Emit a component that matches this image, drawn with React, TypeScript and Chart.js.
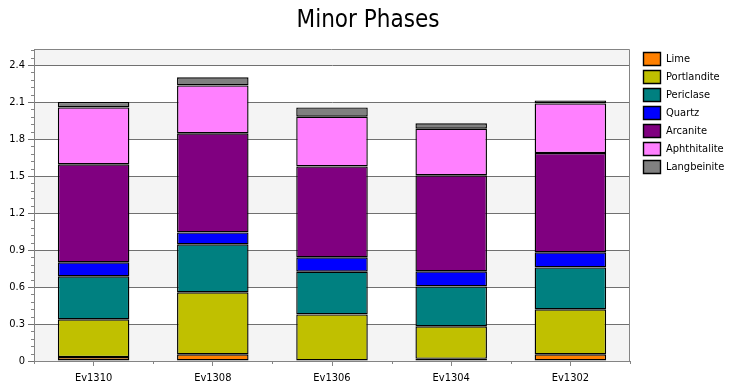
import React, { useEffect, useRef } from "react";
import { Chart, registerables } from "chart.js";

Chart.register(...registerables);

// ---- data ----
const CATEGORIES = ["Ev1310", "Ev1308", "Ev1306", "Ev1304", "Ev1302"];
const SERIES_NAMES = ["Lime", "Portlandite", "Periclase", "Quartz", "Arcanite", "Aphthitalite", "Langbeinite"];
const LIME = [0.032, 0.054, 0, 0.018, 0.054];
const PORTLANDITE = [0.306, 0.503, 0.378, 0.263, 0.365];
const PERICLASE = [0.349, 0.389, 0.346, 0.324, 0.34];
const QUARTZ = [0.113, 0.097, 0.117, 0.122, 0.122];
const ARCANITE = [0.795, 0.803, 0.737, 0.779, 0.805];
const APHTHITALITE = [0.461, 0.389, 0.403, 0.378, 0.403];
const LANGBEINITE = [0.045, 0.065, 0.075, 0.043, 0.024];
const SERIES_COLORS = ["#FF8000", "#C0C000", "#008080", "#0000FF", "#800080", "#FF80FF", "#808080"];
const Y_TICKS = [0, 0.3, 0.6, 0.9, 1.2, 1.5, 1.8, 2.1, 2.4];
const Y_TICK_LABELS = ["0", "0.3", "0.6", "0.9", "1.2", "1.5", "1.8", "2.1", "2.4"];
const Y_MAX = 2.53;
const Y_MINOR_STEP = 0.06;
const TITLE = "Minor Phases";

const FONT = "'DejaVu Sans Condensed', 'Liberation Sans', sans-serif";
const BAND_GRAY = "#F4F4F4";
const GRID = "#707070";
const AXIS = "#848484";

const chartDecor = {
  id: "chartDecor",
  afterLayout(chart: any) {
    const ca = chart.chartArea;
    const lg = chart.legend;
    if (lg) {
      const w = lg.width, h = lg.height;
      lg.left = ca.right + 8.5;
      lg.top = ca.top - 1.5;
      lg.right = lg.left + w + 20;
      lg.bottom = lg.top + h;
    }
    const tb = chart.titleBlock;
    if (tb) {
      tb.left = 0;
      tb.right = chart.width;
      tb.width = chart.width;
    }
  },
  beforeDraw(chart: any) {
    const { ctx, chartArea } = chart;
    const y = chart.scales.y;
    const bounds = [...Y_TICKS, Y_MAX];
    ctx.save();
    for (let i = 0; i < bounds.length - 1; i++) {
      const top = y.getPixelForValue(bounds[i + 1]);
      const bot = y.getPixelForValue(bounds[i]);
      ctx.fillStyle = i % 2 === 0 ? BAND_GRAY : "#FFFFFF";
      ctx.fillRect(chartArea.left, top, chartArea.right - chartArea.left, bot - top);
    }
    ctx.restore();
  },
  beforeDatasetsDraw(chart: any) {
    const { ctx, chartArea } = chart;
    ctx.save();
    ctx.strokeStyle = AXIS;
    ctx.lineWidth = 1;
    ctx.beginPath();
    ctx.moveTo(chartArea.left, Math.round(chartArea.top) + 0.5);
    ctx.lineTo(Math.round(chartArea.right) - 0.5, Math.round(chartArea.top) + 0.5);
    ctx.lineTo(Math.round(chartArea.right) - 0.5, chartArea.bottom);
    ctx.stroke();
    ctx.restore();
  },
  afterDraw(chart: any) {
    const { ctx, chartArea } = chart;
    const y = chart.scales.y;
    const x = chart.scales.x;
    ctx.save();
    ctx.strokeStyle = AXIS;
    ctx.lineWidth = 1;
    ctx.beginPath();
    const n = Math.round(Y_MAX / Y_MINOR_STEP);
    const lx = Math.round(chartArea.left) + 0.5;
    for (let k = 1; k <= n; k++) {
      const v = k * Y_MINOR_STEP;
      if (Math.round(v * 100) % 30 === 0) continue;
      if (v > Y_MAX) break;
      const py = Math.round(y.getPixelForValue(v)) + 0.5;
      ctx.moveTo(lx - 3.5, py);
      ctx.lineTo(lx, py);
    }
    const step = x.getPixelForValue(1) - x.getPixelForValue(0);
    const by = Math.round(chartArea.bottom);
    for (let i = 0; i <= CATEGORIES.length; i++) {
      const px = Math.round(x.getPixelForValue(i) - step / 2) + 0.5;
      ctx.moveTo(px, by);
      ctx.lineTo(px, by + 3);
    }
    ctx.stroke();
    ctx.restore();
  },
};

export default function App() {
  const ref = useRef<HTMLCanvasElement | null>(null);

  useEffect(() => {
    document.body.style.margin = "0";
    const canvas = ref.current;
    if (!canvas) return;
    const seriesValues = [LIME, PORTLANDITE, PERICLASE, QUARTZ, ARCANITE, APHTHITALITE, LANGBEINITE];
    const chart = new Chart(canvas, {
      type: "bar",
      data: {
        labels: CATEGORIES,
        datasets: SERIES_NAMES.map((name, i) => ({
          label: name,
          data: seriesValues[i],
          backgroundColor: SERIES_COLORS[i],
          borderColor: "#000000",
          borderWidth: 1.4,
          borderSkipped: false,
          inflateAmount: 0,
          barPercentage: 0.6,
          categoryPercentage: 1,
        })),
      },
      options: {
        animation: false,
        responsive: false,
        devicePixelRatio: 1,
        layout: { padding: { left: 0, right: 106, top: 0, bottom: 0 } },
        plugins: {
          title: {
            display: true,
            text: TITLE,
            color: "#000000",
            font: { family: FONT, size: 24, weight: "normal", lineHeight: 1 },
            padding: { top: 9, bottom: 16 },
          },
          legend: {
            display: true,
            position: "chartArea",
            align: "start",
            labels: {
              boxWidth: 17,
              boxHeight: 13,
              padding: 5,
              color: "#000000",
              font: { family: FONT, size: 11 },
            },
          },
          tooltip: { enabled: false },
        },
        scales: {
          x: {
            stacked: true,
            offset: true,
            afterFit: (s: any) => { s.height = 30; },
            grid: {
              offset: false,
              drawOnChartArea: false,
              drawTicks: true,
              tickLength: 5,
              color: AXIS,
            },
            border: { display: true, color: AXIS },
            ticks: {
              color: "#000000",
              padding: 6,
              font: { family: FONT, size: 11 },
            },
          },
          y: {
            stacked: true,
            min: 0,
            max: Y_MAX,
            afterFit: (s: any) => { s.width = 34; },
            afterBuildTicks: (s: any) => { s.ticks = Y_TICKS.map((v) => ({ value: v })); },
            grid: {
              drawOnChartArea: true,
              drawTicks: true,
              tickLength: 6,
              color: GRID,
            },
            border: { display: true, color: AXIS },
            ticks: {
              color: "#000000",
              padding: 3,
              font: { family: FONT, size: 11 },
              callback: (_v: any, i: number) => Y_TICK_LABELS[i],
            },
          },
        },
      },
      plugins: [chartDecor],
    } as any);
    return () => chart.destroy();
  }, []);

  return (
    <div style={{ position: "fixed", left: 0, top: 0, width: 736, height: 391, background: "#FFFFFF" }}>
      <canvas ref={ref} width={736} height={391} style={{ width: 736, height: 391, display: "block" }} />
    </div>
  );
}
